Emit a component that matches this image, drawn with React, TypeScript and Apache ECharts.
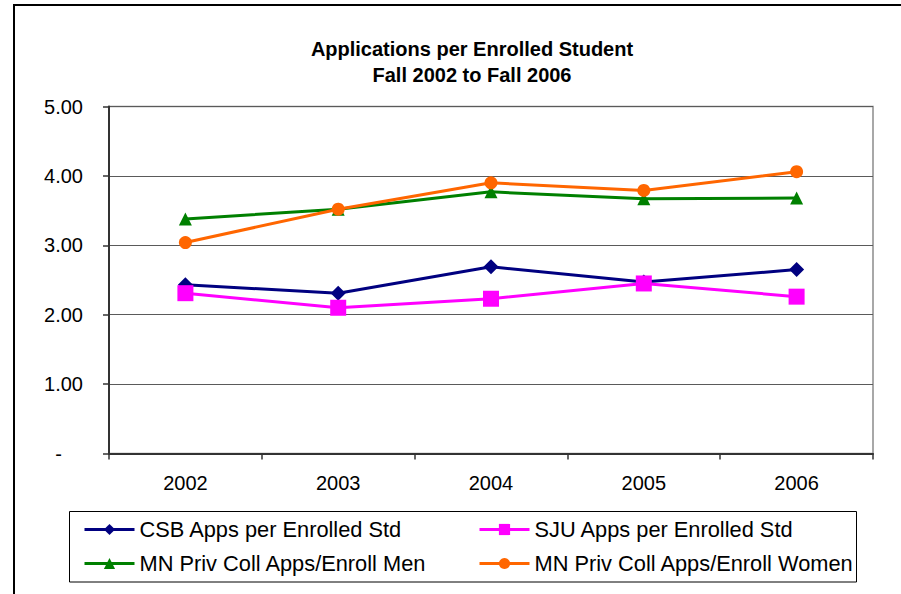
import React, { useEffect, useRef } from "react";
import * as echarts from "echarts";

const years = ["2002", "2003", "2004", "2005", "2006"];
const csb = [2.43, 2.31, 2.69, 2.47, 2.65];
const sju = [2.31, 2.1, 2.23, 2.45, 2.26];
const men = [3.38, 3.52, 3.77, 3.67, 3.68];
const women = [3.04, 3.52, 3.9, 3.79, 4.06];
const names = [
  "CSB Apps per Enrolled Std",
  "SJU Apps per Enrolled Std",
  "MN Priv Coll Apps/Enroll Men",
  "MN Priv Coll Apps/Enroll Women",
];

export default function App() {
  const ref = useRef<HTMLDivElement>(null);
  useEffect(() => {
    const chart = echarts.init(ref.current!, null, { renderer: "svg" });
    const font = "Liberation Sans, Arial, sans-serif";
    const mk = (name: string, data: number[], color: string, symbol: string, size: number) => ({
      name,
      type: "line",
      data,
      symbol,
      symbolSize: size,
      showSymbol: true,
      lineStyle: { color, width: 3 },
      itemStyle: { color, borderWidth: 0 },
      emphasis: { disabled: true },
    });
    const legendBase = {
      orient: "vertical",
      top: 518.5,
      padding: 0,
      itemWidth: 50,
      itemHeight: 14,
      itemGap: 12,
      lineStyle: { width: 3 },
      textStyle: { fontFamily: font, fontSize: 21.8, lineHeight: 22, color: "#000" },
    };
    chart.setOption({
      animation: false,
      backgroundColor: "#fff",
      title: {
        text: "Applications per Enrolled Student\nFall 2002 to Fall 2006",
        left: 467,
        top: 31,
        textAlign: "center",
        textStyle: { fontFamily: font, fontSize: 20, fontWeight: "bold", lineHeight: 26, color: "#000" },
      },
      grid: {
        left: 109,
        right: 28,
        top: 106.5,
        bottom: 140.5,
        show: true,
        borderColor: "#8c8c8c",
        borderWidth: 1.5,
      },
      legend: [
        { ...legendBase, data: [names[0], names[2]], left: 83 },
        { ...legendBase, data: [names[1], names[3]], left: 478 },
      ],
      xAxis: {
        type: "category",
        data: years,
        boundaryGap: true,
        axisLine: { lineStyle: { color: "#333", width: 2 } },
        axisTick: { show: true, length: 6, lineStyle: { color: "#333", width: 1.5 } },
        axisLabel: { fontFamily: font, fontSize: 20, color: "#000", margin: 19 },
      },
      yAxis: {
        type: "value",
        min: 0,
        max: 5,
        interval: 1,
        axisLine: { show: true, lineStyle: { color: "#333", width: 2 } },
        axisTick: { show: true, length: 6, lineStyle: { color: "#333", width: 1.5 } },
        splitLine: { show: true, lineStyle: { color: "#5a5a5a", width: 1 } },
        axisLabel: {
          fontFamily: font,
          fontSize: 20,
          color: "#000",
          margin: 26,
          formatter: (v: number) => (v === 0 ? "{d|-}" : v.toFixed(2)),
          rich: { d: { fontFamily: font, fontSize: 20, color: "#000", padding: [0, 21, 0, 0] } },
        },
      },
      series: [
        mk(names[0], csb, "#000080", "diamond", 15),
        mk(names[1], sju, "#ff00ff", "rect", 16),
        mk(names[2], men, "#008000", "triangle", 13),
        mk(names[3], women, "#ff6600", "circle", 13),
      ],
      graphic: [
        {
          type: "rect",
          shape: { x: 14, y: 5, width: 950, height: 650 },
          style: { fill: "none", stroke: "#000", lineWidth: 2 },
          silent: true,
        },
        {
          type: "rect",
          shape: { x: 69.5, y: 511.5, width: 787, height: 70.5 },
          style: { fill: "none", stroke: "#000", lineWidth: 1 },
          silent: true,
        },
      ],
    });
    return () => chart.dispose();
  }, []);
  return (
    <div
      ref={ref}
      style={{ position: "fixed", left: 0, top: 0, width: 901, height: 594 }}
    />
  );
}
